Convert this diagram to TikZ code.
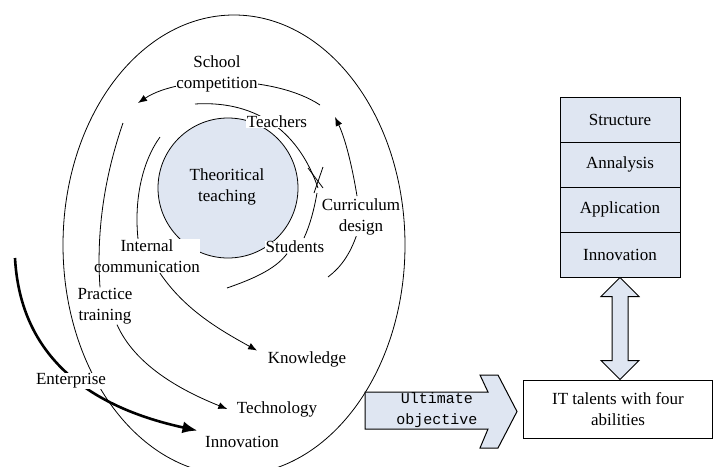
\documentclass[tikz,border=0pt]{standalone}
\usepackage{fontspec}
\setmainfont{Liberation Serif}
\newfontfamily\monofont{Liberation Mono}
\usetikzlibrary{arrows.meta,calc}
\definecolor{paleblue}{RGB}{223,230,242}
\pgfdeclarelayer{bg}
\pgfsetlayers{bg,main}
\begin{document}
\begin{tikzpicture}[x=1pt,y=-1pt,
  lbl/.style={fill=white, inner sep=0.5pt, align=center, font=\fontsize{17}{21}\selectfont},
  txt/.style={inner sep=0.5pt, align=center, font=\fontsize{17}{21}\selectfont},
  curve/.style={line width=0.8pt},
  arr/.style={curve, -{Latex[length=9pt,width=7pt]}},
  thickarr/.style={line width=2.6pt, -{Latex[length=15pt,width=12pt]}},
  cell/.style={draw, line width=1pt, fill=paleblue, minimum width=120pt, minimum height=45pt, inner sep=0pt, font=\fontsize{17}{21}\selectfont},
  bigarrow/.style={draw, line width=1pt, fill=paleblue, line join=miter}]
\useasboundingbox (0,0) rectangle (715,466);

% ---------- labels ----------
\node[lbl] (school) at (217,74) {School\\competition};
\node[lbl] (teachers) at (277,122) {Teachers};
\node[txt] (theo) at (227,187) {Theoritical\\teaching};
\node[lbl] (curr) at (361,217) {Curriculum\\design};
\node[lbl] (students) at (295,247) {Students};
\node[lbl] (internal) at (147,256) {Internal\\communication};
\node[lbl] (practice) at (105,306) {Practice\\training};
\node[lbl] (knowledge) at (307,359) {Knowledge};
\node[lbl] (enterprise) at (71,381) {Enterprise};
\node[lbl] (technology) at (277,409) {Technology};
\node[lbl] (innovation) at (242,442) {Innovation};

% ---------- free ends ----------
\coordinate (scR) at (320,105);
\coordinate (scL) at (138,103);
\coordinate (tA) at (195,104);
\coordinate (xc) at (318,188);
\coordinate (stTop) at (304,238);
\coordinate (cdTip) at (335,117);
\coordinate (cdLow) at (328,277);
\coordinate (a3top) at (160,137);
\coordinate (a2top) at (123,123);
\coordinate (stEnd) at (227,288);
\coordinate (entStart) at (15,258);

\begin{pgfonlayer}{bg}
  \draw[curve] (234,245) ellipse [x radius=171, y radius=230];
  \draw[curve, fill=paleblue] (228,188) circle [radius=70];
  % school competition
  \draw[arr] (scR) .. controls (275,75) and (180,75) .. (scL);
  % teachers arc to the crossing
  \draw[curve] (tA) .. controls (260,100) and (300,135) .. (xc);
  \draw[curve] (308,168) -- (323,188);
  \draw[curve] (323,167) -- (314,193);
  \draw[curve] (317,193) .. controls (314,210) and (310,225) .. (stTop);
  % curriculum design
  \draw[arr] (curr.north) ++(-4,-2) .. controls (352,165) and (345,138) .. (cdTip);
  \draw[curve] ($(curr.south)+(-4,-2)$) .. controls (350,255) and (340,268) .. (cdLow);
  % inner left arc to internal communication
  \draw[curve] (a3top) .. controls (142,162) and (134,200) .. (internal.north -| 138,0);
  % internal communication -> knowledge
  \draw[arr] (internal.south) ++(13,0) .. controls (185,310) and (220,330) .. ($(knowledge.north west)+(-10,0)$);
  % practice training -> technology
  \draw[arr] (practice.south) ++(12,0) .. controls (135,365) and (180,390) .. ($(technology.west)+(-9,0)$);
  % students -> lower left
  \draw[curve] ($(students.south)+(-8,0)$) .. controls (275,270) and (250,280) .. (stEnd);
  % enterprise -> innovation
  \draw[thickarr] (entStart) .. controls (20,350) and (80,405) .. ($(innovation.north west)+(-7,-5)$);
\end{pgfonlayer}

% outer left arc, running over the label
\draw[curve] (a2top) .. controls (105,175) and (96,230) .. (practice.north -| 100,0);

% ---------- right side ----------
\node[cell] (s1) at (620,119.5) {Structure};
\node[cell] (s2) at (620,164.5) {Annalysis};
\node[cell] (s3) at (620,209.5) {Application};
\node[cell] (s4) at (620,254.5) {Innovation};

\node[draw, line width=1pt, fill=white, minimum width=189pt, minimum height=58pt, align=center,
      font=\fontsize{17}{21}\selectfont] (it) at (618,409) {IT talents with four\\abilities};

\coordinate (dtop) at (s4.south);
\coordinate (dbot) at (s4.south |- it.north);
\draw[bigarrow] (dtop) -- ++(19,19) -- ++(-11,0) -- ($(dbot)+(8,-19)$) -- ++(11,0) -- (dbot)
  -- ++(-19,-19) -- ++(11,0) -- ($(dtop)+(-8,19)$) -- ++(-11,0) -- cycle;

\draw[bigarrow] (365,392) -- (488,392) -- (480,375) -- (498,375) -- (517,411.5) -- (498,448)
  -- (480,448) -- (488,429) -- (365,429) -- cycle;
\node[align=center, inner sep=0pt, font=\monofont\fontsize{15}{21}\selectfont] (ult) at (437,410.5) {Ultimate\\objective};
\end{tikzpicture}
\end{document}
